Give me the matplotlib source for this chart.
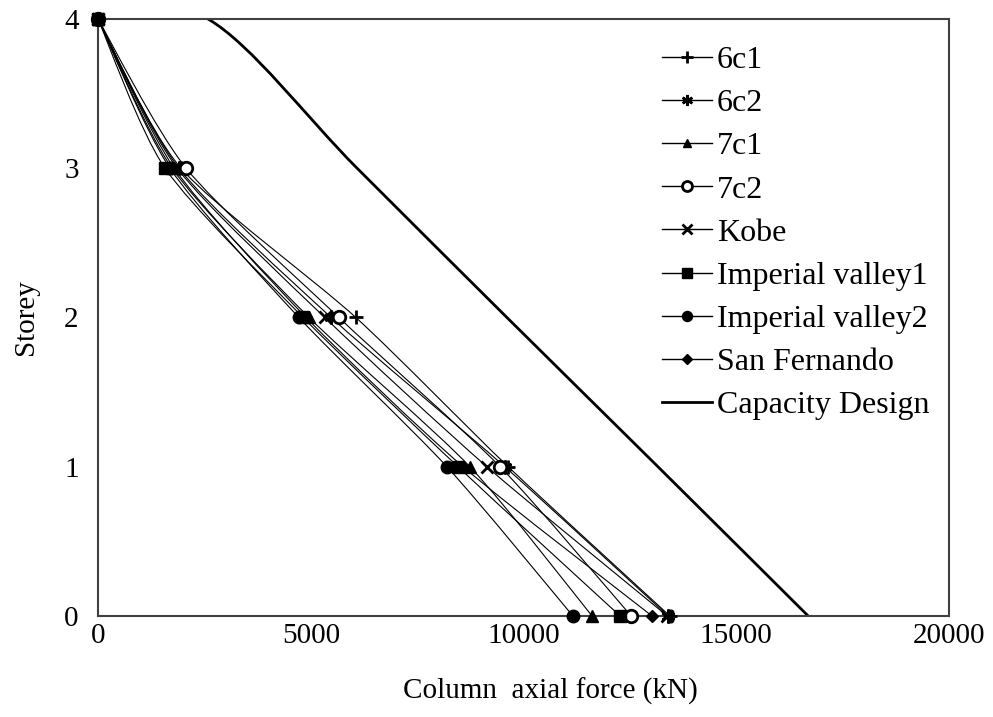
import matplotlib
matplotlib.use("Agg")
import matplotlib.pyplot as plt
from matplotlib.lines import Line2D
from matplotlib.path import Path
from matplotlib.patches import PathPatch
import numpy as np

plt.rcParams["font.family"] = ["Liberation Serif", "DejaVu Serif"]

storeys = [4, 3, 2, 1, 0]

# column axial force (kN) per storey, roof first
force_6c1 = [0, 1950, 6060, 9640, 13440]
force_6c2 = [0, 1900, 5480, 9560, 13400]
force_7c1 = [0, 1740, 4960, 8740, 11610]
force_7c2 = [0, 2070, 5660, 9450, 12530]
force_kobe = [0, 1860, 5330, 9140, 13380]
force_iv1 = [0, 1575, 4820, 8460, 12270]
force_iv2 = [0, 1690, 4720, 8200, 11160]
force_sf = [0, 1790, 4890, 8580, 13020]

capacity_storeys = [4, 4, 3, 2, 1, 0]
capacity_force = [0, 2585, 6090, 9610, 13160, 16690]

series = [
    ("6c1", force_6c1, dict(marker="+", ms=10, mew=2.0, mfc="black")),
    ("6c2", force_6c2, dict(marker=(6, 2, 0), ms=10, mew=1.8, mfc="black")),
    ("7c1", force_7c1, dict(marker="^", ms=8, mfc="black")),
    ("7c2", force_7c2, dict(marker="o", ms=9, mew=2.0, mfc="white")),
    ("Kobe", force_kobe, dict(marker="x", ms=9, mew=2.0, mfc="black")),
    ("Imperial valley1", force_iv1, dict(marker="s", ms=9, mfc="black")),
    ("Imperial valley2", force_iv2, dict(marker="o", ms=9, mfc="black")),
    ("San Fernando", force_sf, dict(marker="D", ms=6, mfc="black")),
]


def smooth_path(xs, ys, k=6.0):
    """Bezier path through the points, spreadsheet-style smoothed line."""
    pts = np.column_stack([xs, ys]).astype(float)
    n = len(pts)
    verts = [pts[0]]
    codes = [Path.MOVETO]
    for i in range(n - 1):
        p0 = pts[i - 1] if i > 0 else pts[i]
        p1 = pts[i]
        p2 = pts[i + 1]
        p3 = pts[i + 2] if i + 2 < n else pts[i + 1]
        c1 = p1 + (p2 - p0) / k
        c2 = p2 - (p3 - p1) / k
        verts += [c1, c2, p2]
        codes += [Path.CURVE4] * 3
    return Path(verts, codes)


fig = plt.figure(figsize=(9.93, 7.17), dpi=100)
ax = fig.add_axes([0.0987, 0.1409, 0.8570, 0.8326])

handles = []
for name, xs, style in series:
    ax.add_patch(PathPatch(smooth_path(xs, storeys, k=8.0), fill=False,
                           edgecolor="black", lw=0.8, zorder=2))
    ax.plot(xs, storeys, ls="none", color="black", mec="black",
            clip_on=False, zorder=3, **style)
    handles.append(Line2D([], [], color="black", lw=1.0, mec="black",
                          label=name, **dict(style, ms=style["ms"] * 0.8)))

ax.add_patch(PathPatch(smooth_path(capacity_force, capacity_storeys), fill=False,
                       edgecolor="black", lw=2.0, zorder=2))
handles.append(Line2D([], [], color="black", lw=2.0, label="Capacity Design"))

ax.set_xlim(0, 20000)
ax.set_ylim(0, 4)
ax.set_xticks([0, 5000, 10000, 15000, 20000])
ax.set_yticks([0, 1, 2, 3, 4])
ax.tick_params(axis="both", length=0, labelsize=21)
ax.tick_params(axis="x", pad=5)
ax.tick_params(axis="y", pad=14)
for sp in ax.spines.values():
    sp.set_color("#404040")
    sp.set_linewidth(1.5)

ax.set_xlabel("Column  axial force (kN)", fontsize=21)
ax.xaxis.set_label_coords(0.532, -0.103)
ax.set_ylabel("Storey", fontsize=21, labelpad=18)

fig.legend(handles=handles, loc="upper left", bbox_to_anchor=(0.667, 0.936),
           frameon=False, fontsize=23, handlelength=1.55, handletextpad=0.15,
           borderpad=0, borderaxespad=0, labelspacing=0.43)

fig.savefig("out.png", dpi=100)
